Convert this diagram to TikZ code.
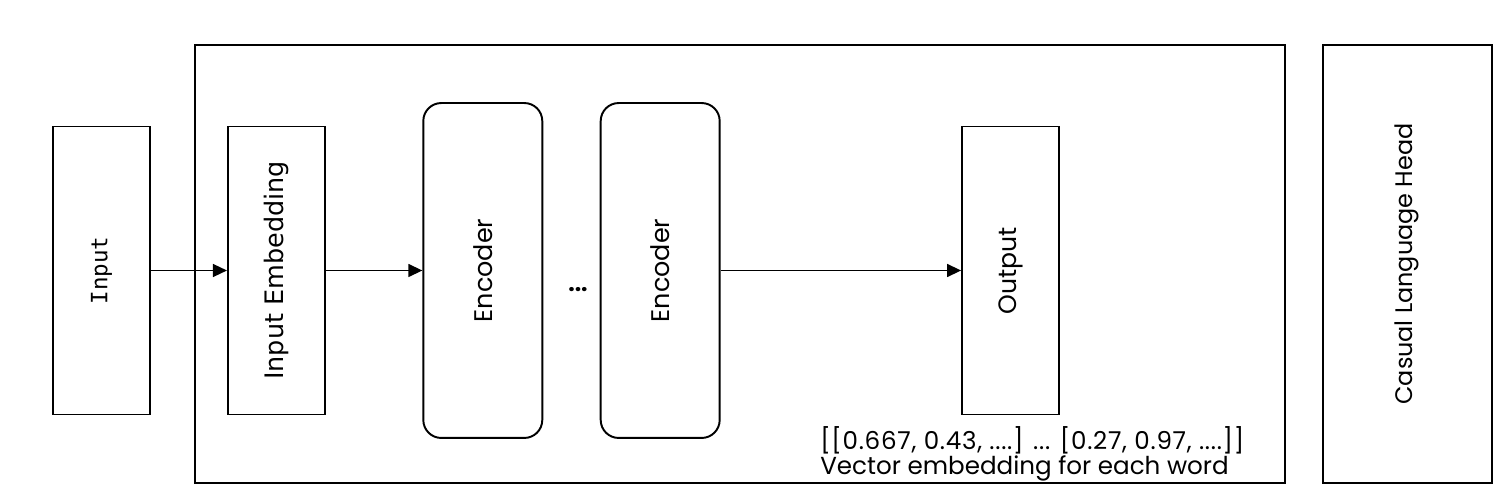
\documentclass[tikz,border=0pt]{standalone}
\usepackage{fontspec}
\setmainfont{Poppins}
\newfontfamily\embfont{DejaVu Sans}
\newfontfamily\inputfont{DejaVu Sans Mono}
\usepackage{tikz}
\usetikzlibrary{arrows.meta, positioning}
\tikzset{
        block/.style={rectangle, draw, line width=1.1pt, minimum width=1.94cm, minimum height=5.76cm, inner sep=0pt, font=\fontsize{14.3}{16}\selectfont},
        encblock/.style={block, rounded corners=0.36cm, minimum width=2.38cm, minimum height=6.7cm, font=\fontsize{14.5}{16}\selectfont},
        layerbox/.style={rectangle, draw, line width=1.1pt, minimum width=21.8cm, minimum height=8.76cm, inner sep=0pt, font=\fontsize{13.6}{16}\selectfont},
        arrow/.style={-{Triangle[length=0.28cm, width=0.26cm]}, line width=0.8pt},
    }
\newcommand{\vtext}[1]{\rotatebox{90}{#1}}

\begin{document}
\begin{tikzpicture}[x=0.02cm, y=-0.02cm]
        \useasboundingbox (0,0) rectangle (1512,496);

        % === MODEL BODY + HEAD ===
        \node[layerbox] (model) at (740,264) {};
        \node[layerbox, minimum width=3.38cm, right=0.72cm of model] (head) {\vtext{Casual Language Head}};

        % === PIPELINE ===
        \node[block, font=\inputfont\fontsize{12.8}{14}\selectfont] (input) at (101.5,270.5) {\vtext{Input}};
        \node[block, font=\embfont\fontsize{14.5}{16}\selectfont, right=1.52cm of input] (embed) {\vtext{Input Embedding}};
        \node[encblock, right=1.93cm of embed] (enc1) {\vtext{Encoder}};
        \node[encblock, right=1.13cm of enc1] (enc2) {\vtext{Encoder}};
        \node[block, right=4.81cm of enc2] (output) {\vtext{Output}};

        \node[anchor=base, font=\bfseries\fontsize{13}{16}\selectfont] (dots) at (578,292) {...};

        \draw[arrow] (input) -- (embed);
        \draw[arrow] (embed) -- (enc1);
        \draw[arrow] (enc2) -- (output);

        % output vectors
        \node[anchor=north west, align=left, inner sep=0pt, font=\fontsize{14}{14.2}\selectfont] (vec) at (820,426)
            {{\addfontfeature{LetterSpace=3}[[0.667, 0.43, ....] ... [0.27, 0.97, ....]]}\\Vector embedding for each word};

    \end{tikzpicture}
\end{document}
